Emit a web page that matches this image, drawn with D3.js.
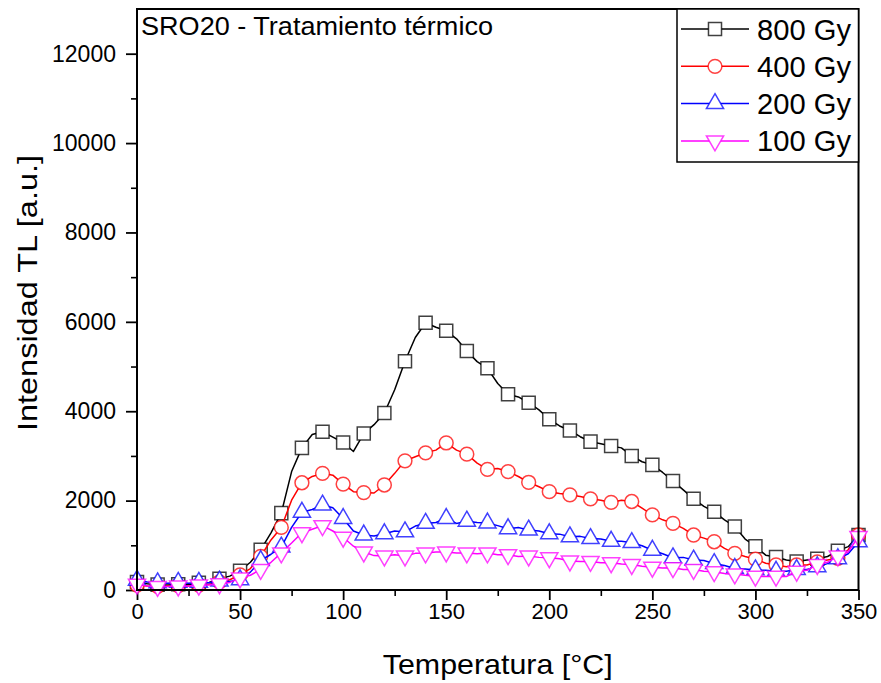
<!DOCTYPE html>
<html>
<head>
<meta charset="utf-8">
<script src="https://cdn.jsdelivr.net/npm/d3@7/dist/d3.min.js"></script>
<style>
  body { margin: 0; background: #fff; }
  svg { display: block; font-family: "Liberation Sans", Arial, sans-serif; }
</style>
</head>
<body>
<script>
// Temperature grid (°C) every 5 degrees
const temps = [0,5,10,15,20,25,30,35,40,45,50,55,60,65,70,75,80,85,90,95,100,105,110,115,120,125,130,135,140,145,150,155,160,165,170,175,180,185,190,195,200,205,210,215,220,225,230,235,240,245,250,255,260,265,270,275,280,285,290,295,300,305,310,315,320,325,330,335,340,345,350];

// TL intensity [a.u.] per dose
const gy800 = [180,140,120,110,130,120,160,170,250,310,430,620,900,1280,1720,2650,3180,3480,3540,3420,3300,3100,3500,3700,3960,4480,5120,5650,5980,5880,5800,5620,5350,5110,4960,4620,4380,4320,4190,4030,3820,3670,3570,3430,3320,3270,3220,3180,3000,2870,2800,2630,2440,2240,2040,1870,1750,1570,1420,1140,980,780,740,670,640,670,700,750,880,970,1230];
const gy400 = [110,90,80,90,100,90,110,130,180,230,340,480,750,1120,1400,2010,2400,2540,2610,2570,2370,2200,2180,2170,2350,2610,2890,2980,3070,3130,3290,3130,3040,2840,2700,2720,2650,2540,2410,2310,2200,2160,2130,2090,2040,2010,1960,2010,1980,1830,1680,1570,1490,1380,1230,1160,1080,930,820,750,690,600,560,520,560,560,630,670,710,900,1230];
const gy200 = [220,180,160,150,170,150,170,160,200,190,230,400,660,800,960,1400,1740,1800,1900,1840,1600,1320,1230,1210,1260,1320,1300,1430,1490,1510,1600,1490,1540,1510,1500,1440,1370,1400,1340,1320,1260,1250,1190,1200,1150,1140,1090,1090,1060,990,890,810,720,730,670,660,590,550,480,470,450,440,420,420,460,460,520,590,700,810,1080];
const gy100 = [130,90,80,80,90,90,110,110,140,170,270,330,460,620,830,1050,1280,1360,1440,1320,1180,980,850,770,760,790,760,820,830,850,850,830,830,810,830,790,790,750,760,730,720,700,650,640,640,610,610,580,570,530,510,490,500,460,460,420,410,370,360,330,310,300,310,300,420,440,570,620,760,850,1200];

const seriesNames = ['800 Gy', '400 Gy', '200 Gy', '100 Gy'];
const seriesColors = ['#000000', '#ff0000', '#0000ff', '#ff00ff'];
const seriesSymbols = ['square', 'circle', 'triangle', 'triangleDown'];

const xTicks = [0, 50, 100, 150, 200, 250, 300, 350];
const xMinor = [25, 75, 125, 175, 225, 275, 325];
const yTicks = [0, 2000, 4000, 6000, 8000, 10000, 12000];
const yMinor = [1000, 3000, 5000, 7000, 9000, 11000];

const W = 881, H = 683;
const plotL = 137, plotR = 858.5, plotT = 9, plotB = 590;

const svg = d3.select('body').append('svg')
  .attr('width', W)
  .attr('height', H);

const x = d3.scaleLinear().domain([0, 350]).range([plotL, plotR]);
const y = d3.scaleLinear().domain([0, 13000]).range([plotB, plotT]);

// minor ticks first, then major axes
svg.append('g')
  .attr('transform', `translate(0,${plotB})`)
  .call(d3.axisBottom(x).tickValues(xMinor).tickSize(6).tickFormat(''))
  .call(g => g.select('.domain').remove())
  .selectAll('line').attr('stroke-width', 1.6);

svg.append('g')
  .attr('transform', `translate(${plotL},0)`)
  .call(d3.axisLeft(y).tickValues(yMinor).tickSize(6).tickFormat(''))
  .call(g => g.select('.domain').remove())
  .selectAll('line').attr('stroke-width', 1.6);

const xAxis = svg.append('g')
  .attr('transform', `translate(0,${plotB})`)
  .call(d3.axisBottom(x).tickValues(xTicks).tickSize(10).tickPadding(3).tickFormat(d3.format('d')));
xAxis.select('.domain').remove();
xAxis.selectAll('line').attr('stroke-width', 1.8);
xAxis.selectAll('text').attr('font-size', 22).attr('fill', '#000')
  .style('font-family', '"Liberation Sans", Arial, sans-serif');

const yAxis = svg.append('g')
  .attr('transform', `translate(${plotL},0)`)
  .call(d3.axisLeft(y).tickValues(yTicks).tickSize(11).tickPadding(10).tickFormat(d3.format('d')));
yAxis.select('.domain').remove();
yAxis.selectAll('line').attr('stroke-width', 1.8);
yAxis.selectAll('text').attr('font-size', 23).attr('fill', '#000')
  .style('font-family', '"Liberation Sans", Arial, sans-serif');

// symbol helper
function symbolPath(kind) {
  if (kind === 'square') return d3.symbol(d3.symbolSquare, 170)();
  if (kind === 'circle') return d3.symbol(d3.symbolCircle, 150)();
  return d3.symbol(d3.symbolTriangle, 128)();
}
function symbolTransform(kind, px, py) {
  return kind === 'triangleDown'
    ? `translate(${px},${py}) rotate(180)`
    : `translate(${px},${py})`;
}

const allSeries = [gy800, gy400, gy200, gy100];

const line = d3.line()
  .x(d => x(d[0]))
  .y(d => y(d[1]));

allSeries.forEach((vals, i) => {
  const pts = temps.map((t, k) => [t, vals[k]]);
  const g = svg.append('g');
  g.append('path')
    .datum(pts)
    .attr('d', line)
    .attr('fill', 'none')
    .attr('stroke', seriesColors[i])
    .attr('stroke-width', 1.5)
    .attr('stroke-linejoin', 'round');

  // a marker every 10 °C
  g.selectAll('path.mk')
    .data(pts.filter(p => p[0] % 10 === 0))
    .enter().append('path')
    .attr('class', 'mk')
    .attr('d', symbolPath(seriesSymbols[i]))
    .attr('transform', d => symbolTransform(seriesSymbols[i], x(d[0]), y(d[1])))
    .attr('fill', 'white')
    .attr('stroke', seriesColors[i])
    .attr('stroke-opacity', 0.75)
    .attr('stroke-width', 1.5);
});

// frame
svg.append('rect')
  .attr('x', plotL).attr('y', plotT)
  .attr('width', plotR - plotL).attr('height', plotB - plotT)
  .attr('fill', 'none')
  .attr('stroke', '#000')
  .attr('stroke-width', 2);

// axis titles
svg.append('text')
  .attr('x', (plotL + plotR) / 2).attr('y', 674)
  .attr('text-anchor', 'middle')
  .attr('font-size', 28)
  .attr('textLength', 230).attr('lengthAdjust', 'spacingAndGlyphs')
  .text('Temperatura [°C]');

svg.append('text')
  .attr('transform', 'translate(37,293) rotate(-90)')
  .attr('text-anchor', 'middle')
  .attr('font-size', 28)
  .attr('textLength', 276).attr('lengthAdjust', 'spacingAndGlyphs')
  .text('Intensidad TL [a.u.]');

svg.append('text')
  .attr('x', 141).attr('y', 35)
  .attr('font-size', 26)
  .attr('textLength', 352).attr('lengthAdjust', 'spacingAndGlyphs')
  .text('SRO20 - Tratamiento térmico');

// legend
const lg = svg.append('g');
lg.append('rect')
  .attr('x', 677).attr('y', plotT)
  .attr('width', plotR - 677).attr('height', 153)
  .attr('fill', 'white')
  .attr('stroke', '#000')
  .attr('stroke-width', 1.5);

seriesNames.forEach((name, i) => {
  const cy = 29 + i * 37.3;
  lg.append('line')
    .attr('x1', 681).attr('x2', 749)
    .attr('y1', cy).attr('y2', cy)
    .attr('stroke', seriesColors[i])
    .attr('stroke-width', 1.5);
  lg.append('path')
    .attr('d', symbolPath(seriesSymbols[i]))
    .attr('transform', symbolTransform(seriesSymbols[i], 715, cy))
    .attr('fill', 'white')
    .attr('stroke', seriesColors[i])
    .attr('stroke-opacity', 0.75)
    .attr('stroke-width', 1.5);
  lg.append('text')
    .attr('x', 757).attr('y', cy + 10.5)
    .attr('font-size', 29)
    .attr('textLength', 94).attr('lengthAdjust', 'spacingAndGlyphs')
    .text(name);
});
</script>
</body>
</html>
